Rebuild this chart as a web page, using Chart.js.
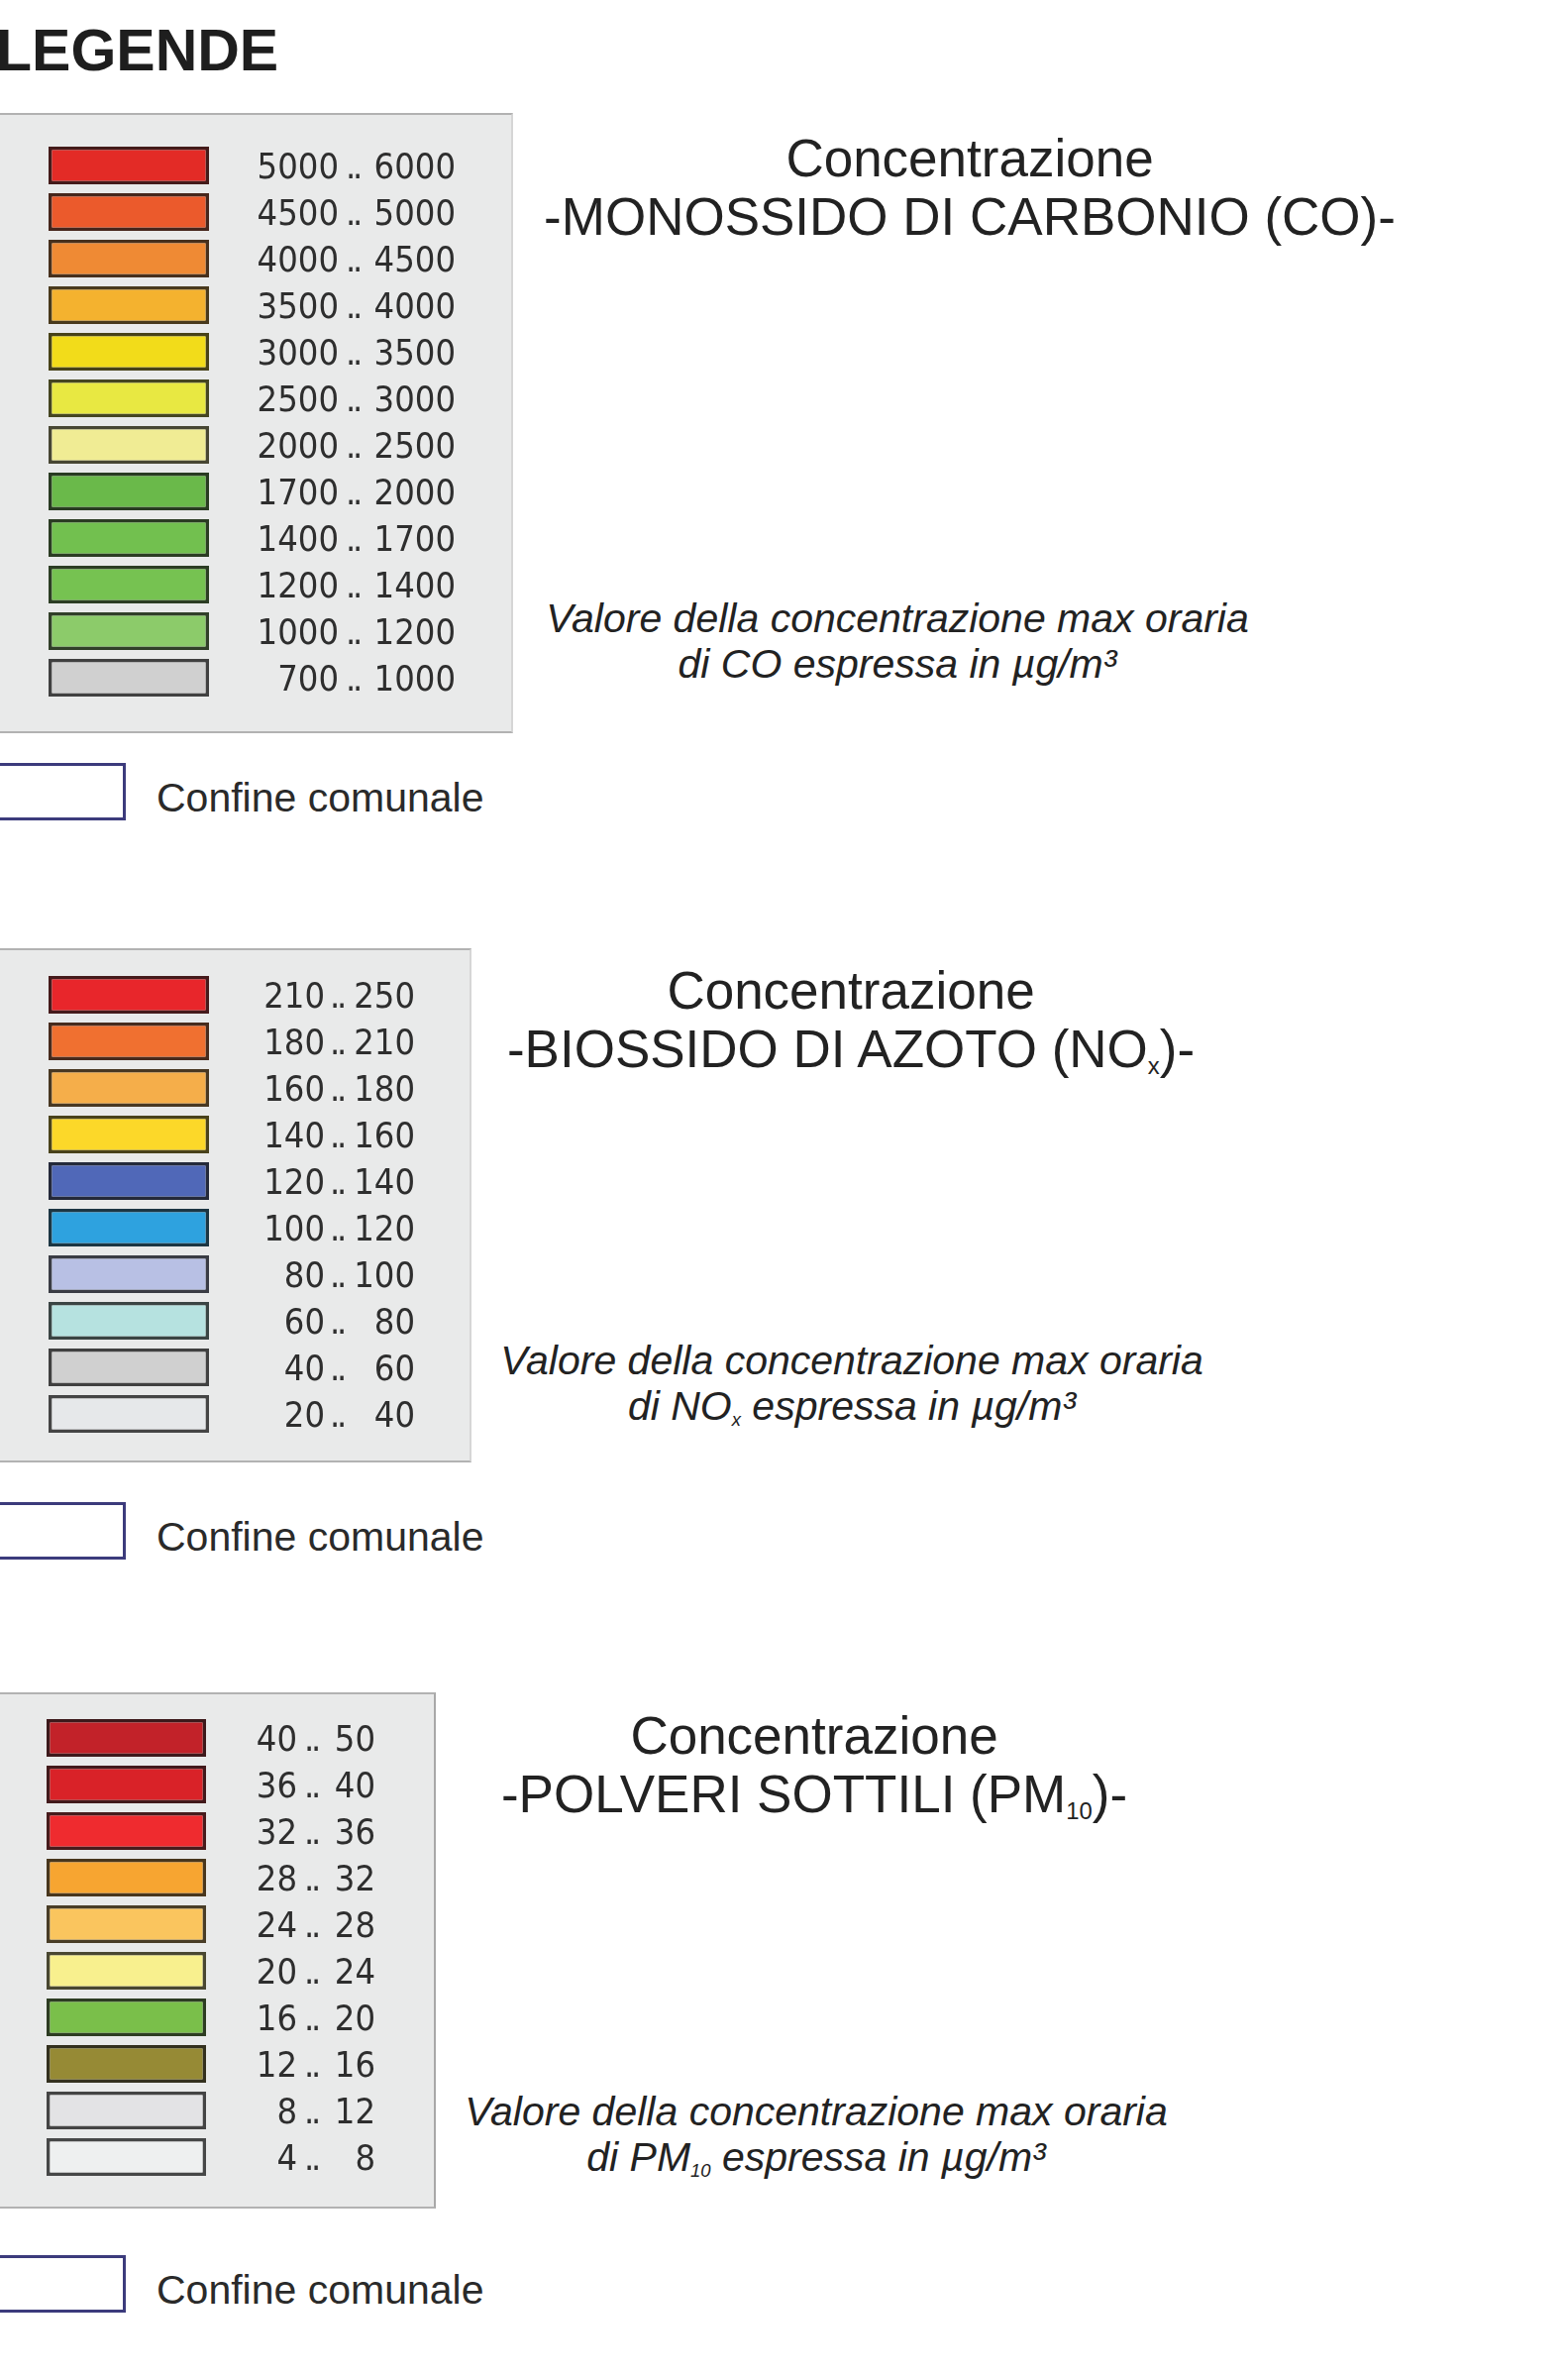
<!DOCTYPE html>
<html>
<head>
<meta charset="utf-8">
<script src="https://cdn.jsdelivr.net/npm/chart.js@4.4.1/dist/chart.umd.min.js"></script>
<style>
  body { margin: 0; background: #fff; }
  #page { position: relative; width: 1583px; height: 2399px; overflow: hidden;
          font-family: "Liberation Sans", Arial, sans-serif; color: #222; }
  .abs { position: absolute; white-space: nowrap; }
  .panel { position: absolute; left: 0; background: #e9eaea; box-sizing: border-box;
           border-top: 2px solid #b2b2b2; border-bottom: 2px solid #b2b2b2; border-right: 2px solid #d6d6d6; }
  canvas { position: absolute; left: 0; }
  .title { font-size: 53px; line-height: 59px; text-align: center; transform: translateX(-50%); }
  .note { font-size: 41px; line-height: 46px; font-style: italic; text-align: center; transform: translateX(-50%); }
  .cbox { position: absolute; left: -10px; width: 137px; height: 58px; box-sizing: border-box;
          border: 3px solid #3c3b7c; background: #fff; }
  .confine { font-size: 41px; line-height: 41px; left: 158px; color: #2a2a2a; }
  sub { font-size: 0.45em; vertical-align: baseline; position: relative; top: 0.3em; }
</style>
</head>
<body>
<div id="page">
  <div class="abs" style="left:-4px; top:22px; font-size:59px; line-height:59px; font-weight:bold; color:#1e1e1e;">LEGENDE</div>

  <!-- CO -->
  <div class="panel" style="top:114px; height:626px; width:518px;"></div>
  <canvas id="coChart" width="518" height="626" style="top:114px;"></canvas>
  <div class="abs title" style="left:979px; top:130px;">Concentrazione<br>-MONOSSIDO DI CARBONIO (CO)-</div>
  <div class="abs note" style="left:906px; top:601px;">Valore della concentrazione max oraria<br>di CO espressa in µg/m³</div>
  <div class="cbox" style="top:770px;"></div>
  <div class="abs confine" style="top:785px;">Confine comunale</div>

  <!-- NOx -->
  <div class="panel" style="top:957px; height:519px; width:476px;"></div>
  <canvas id="noxChart" width="476" height="519" style="top:957px;"></canvas>
  <div class="abs title" style="left:859px; top:970px;">Concentrazione<br>-BIOSSIDO DI AZOTO (NO<sub>x</sub>)-</div>
  <div class="abs note" style="left:860px; top:1350px;">Valore della concentrazione max oraria<br>di NO<sub>x</sub> espressa in µg/m³</div>
  <div class="cbox" style="top:1516px;"></div>
  <div class="abs confine" style="top:1531px;">Confine comunale</div>

  <!-- PM10 -->
  <div class="panel" style="top:1708px; height:521px; width:440px; border-right-color:#a8a8a8;"></div>
  <canvas id="pmChart" width="440" height="521" style="top:1708px;"></canvas>
  <div class="abs title" style="left:822px; top:1722px;">Concentrazione<br>-POLVERI SOTTILI (PM<sub>10</sub>)-</div>
  <div class="abs note" style="left:824px; top:2108px;">Valore della concentrazione max oraria<br>di PM<sub>10</sub> espressa in µg/m³</div>
  <div class="cbox" style="top:2276px;"></div>
  <div class="abs confine" style="top:2291px;">Confine comunale</div>
</div>

<script>
// class limits, top row first
const coLow = [5000, 4500, 4000, 3500, 3000, 2500, 2000, 1700, 1400, 1200, 1000, 700]
const coHigh = [6000, 5000, 4500, 4000, 3500, 3000, 2500, 2000, 1700, 1400, 1200, 1000]
const coColors = ['#e32b26', '#eb5a2c', '#ef8a34', '#f4b22f', '#f2dc1a', '#e8e842',
  '#f0ec94', '#6ab94a', '#72c04f', '#76c251', '#8ccb6a', '#d0d0d0']

const noxLow = [210, 180, 160, 140, 120, 100, 80, 60, 40, 20]
const noxHigh = [250, 210, 180, 160, 140, 120, 100, 80, 60, 40]
const noxColors = ['#e8262b', '#f07030', '#f5ae4a', '#fcd829', '#5068b8', '#2ea2df',
  '#b8c0e4', '#b6e2e0', '#d0d0d0', '#e6e8ea']

const pmLow = [40, 36, 32, 28, 24, 20, 16, 12, 8, 4]
const pmHigh = [50, 40, 36, 32, 28, 24, 20, 16, 12, 8]
const pmColors = ['#c22229', '#d92228', '#ef2b2f', '#f7a531', '#fac55e', '#f8f08e',
  '#7abf4a', '#968a35', '#e3e3e5', '#eef0f0']

const darken = hex => {
  const n = parseInt(hex.slice(1), 16)
  const c = [(n >> 16) & 255, (n >> 8) & 255, n & 255].map(v => Math.round(v * 0.22 + 18))
  return `rgb(${c[0]},${c[1]},${c[2]})`
}

// draws "lo .. hi" with both numbers right-aligned, like the original legend
const rangeText = {
  id: 'rangeText',
  afterDatasetsDraw(chart, args, opts) {
    const ctx = chart.ctx
    const y = chart.scales.y
    ctx.save()
    ctx.font = '36px "DejaVu Sans Condensed", "DejaVu Sans", sans-serif'
    ctx.fillStyle = '#2e2e2e'
    ctx.textBaseline = 'alphabetic'
    opts.low.forEach((lo, i) => {
      const py = y.getPixelForValue(i) + 13
      ctx.textAlign = 'right'
      ctx.fillText(String(lo), opts.xLow, py)
      ctx.fillText(String(opts.high[i]), opts.xHigh, py)
      ctx.textAlign = 'left'
      ctx.fillText('.', opts.xLow + opts.dotGap, py)
      ctx.fillText('.', opts.xLow + opts.dotGap + 7, py)
    })
    ctx.restore()
  }
}

function legendPanel(id, low, high, colors, cfg) {
  return new Chart(document.getElementById(id), {
    type: 'bar',
    data: {
      labels: low.map((lo, i) => lo + ' .. ' + high[i]),
      datasets: [{
        data: low.map(() => 1),
        backgroundColor: colors,
        borderColor: colors.map(darken),
        borderWidth: 3.5,
        borderSkipped: false,
        barPercentage: 0.81,
        categoryPercentage: 1
      }]
    },
    options: {
      indexAxis: 'y',
      responsive: false,
      animation: false,
      layout: { padding: cfg.padding },
      scales: {
        x: { display: false, min: 0, max: 1 },
        y: { display: false }
      },
      plugins: {
        legend: { display: false },
        tooltip: { enabled: false },
        rangeText: { low, high, xLow: cfg.xLow, xHigh: cfg.xHigh, dotGap: cfg.dotGap }
      }
    },
    plugins: [rangeText]
  })
}

legendPanel('coChart', coLow, coHigh, coColors, {
  padding: { left: 49, right: 307, top: 29.5, bottom: 32.5 }, xLow: 342, xHigh: 460, dotGap: 7
})
legendPanel('noxChart', noxLow, noxHigh, noxColors, {
  padding: { left: 49, right: 265, top: 23.5, bottom: 25.5 }, xLow: 328, xHigh: 419, dotGap: 5
})
legendPanel('pmChart', pmLow, pmHigh, pmColors, {
  padding: { left: 47, right: 232, top: 22.5, bottom: 28.5 }, xLow: 300, xHigh: 379, dotGap: 7
})
</script>
</body>
</html>
